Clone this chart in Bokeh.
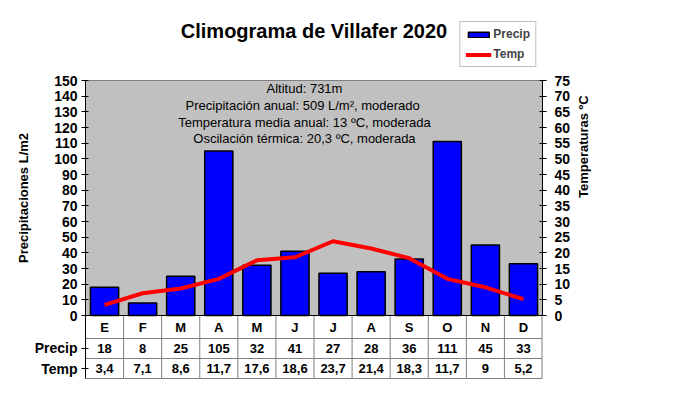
import math
from bokeh.plotting import figure
from bokeh.models import (Range1d, LinearAxis, SingleIntervalTicker, FixedTicker, Legend,
                          LegendItem, ColumnDataSource)
from bokeh.embed import file_html
from bokeh.resources import INLINE
from bokeh.core.properties import value

# ---------------- data ----------------
months = ["E", "F", "M", "A", "M", "J", "J", "A", "S", "O", "N", "D"]
precip = [18, 8, 25, 105, 32, 41, 27, 28, 36, 111, 45, 33]
temp = [3.4, 7.1, 8.6, 11.7, 17.6, 18.6, 23.7, 21.4, 18.3, 11.7, 9, 5.2]
info_lines = [
    "Altitud: 731m",
    "Precipitación anual: 509  L/m², moderado",
    "Temperatura media anual: 13 ºC, moderada",
    "Oscilación térmica: 20,3 ºC, moderada",
]
title_text = "Climograma de Villafer 2020"
row_labels = ["Precip", "Temp"]
precip_ticks = list(range(0, 151, 10))

FONT = "Liberation Sans"
n = len(months)
xs = list(range(n))

# ---------------- geometry ----------------
frame_w = 457
left_b = 85
top_b = 15
chart_top_px = 80       # where the 150 line sits (page px)
chart_px = 235          # height of the 0..150 area in pixels
table_px = 65           # table height under the chart in pixels
k = 150 / chart_px      # data units per pixel (left scale)
y_min = -table_px * k
y_max = 150 + (chart_top_px - top_b) * k
frame_h = chart_top_px - top_b + chart_px + table_px

p = figure(frame_width=frame_w, frame_height=frame_h,
           x_range=Range1d(-0.5, n - 0.5), y_range=Range1d(y_min, y_max),
           output_backend="svg", toolbar_location=None, x_axis_location=None,
           min_border_left=left_b, min_border_right=0, min_border_top=top_b,
           min_border_bottom=2)
p.background_fill_color = "white"
p.border_fill_color = "white"
p.outline_line_color = None
p.grid.visible = False

p.extra_y_ranges = {"temp": Range1d(y_min / 2, y_max / 2)}

# gray plot area (0..150 only)
p.vbar(x=[(n - 1) / 2], width=n, bottom=0, top=150, fill_color="#C0C0C0",
       line_color="#808080", line_width=1)

src = ColumnDataSource(dict(x=xs, precip=precip, temp=temp))
bars = p.vbar(x="x", top="precip", width=0.74, source=src, fill_color="#0000FF",
              line_color="black", line_width=1.5)
line = p.line(x="x", y="temp", source=src, y_range_name="temp", line_color="#FF0000",
              line_width=4)

# title (inside the frame's white top strip)
p.text(x=[(n - 1) / 2], y=[150 + (chart_top_px - 30) * k], text=[title_text],
       text_font=value(FONT), text_font_size="20px", text_font_style="bold",
       text_align="center", text_baseline="middle", text_color="black")

# ---------------- table geometry (data units below the chart) ----------------
row_y = [0, -23 * k, -43 * k, -63 * k]       # row boundaries
row_c = [-11.5 * k, -21, -34]                # row centres (months, Precip, Temp)
gray = "#808080"

# left axis: precipitation ticks + the table's row headers
ya = p.yaxis[0]
ya.ticker = FixedTicker(ticks=precip_ticks + row_c[1:])
ya.major_label_overrides = {row_c[1]: row_labels[0], row_c[2]: row_labels[1]}
ya.axis_label = "Precipitaciones L/m2"
ya.bounds = (row_y[3], 150)

ra = LinearAxis(y_range_name="temp", ticker=SingleIntervalTicker(interval=5),
                axis_label="Temperaturas ºC", bounds=(0, 75))
p.add_layout(ra, "right")
try:
    ra.axis_label_orientation = math.pi / 2
except Exception:
    pass

for ax in [ya, ra]:
    ax.minor_tick_line_color = None
    ax.major_tick_in = 3
    ax.major_tick_out = 4
    ax.major_label_text_font = FONT
    ax.major_label_text_font_size = "14px"
    ax.major_label_text_font_style = "bold"
    ax.major_label_text_color = "black"
    ax.axis_label_text_font = FONT
    ax.axis_label_text_font_size = "13px"
    ax.axis_label_text_font_style = "bold"
    ax.axis_label_text_color = "black"
    ax.axis_line_color = "black"
    ax.major_tick_line_color = "black"
ya.major_label_standoff = 4
ya.axis_label_standoff = 1
ra.major_label_standoff = 8
ra.axis_label_standoff = 10

info_src = ColumnDataSource(dict(x=[5.25] * len(info_lines), y=[145, 134.3, 123.5, 112.8],
                                 text=info_lines))
p.text(x="x", y="y", text="text", source=info_src, text_font=value(FONT),
       text_font_size="13px", text_align="center", text_baseline="middle", text_color="black")

# table grid lines inside the frame
vx = [i + 0.5 for i in range(n - 1)]
mx = [[xx, xx] for xx in vx] + [[-0.5, n - 0.5] for _ in row_y[1:]]
my = [[row_y[0], row_y[3]] for _ in vx] + [[yy, yy] for yy in row_y[1:]]
p.multi_line(xs=mx, ys=my, line_color=gray, line_width=1)
p.multi_line(xs=[[n - 0.5, n - 0.5]], ys=[[row_y[0], row_y[3]]], line_color=gray,
             line_width=2)
# chart baseline
p.line(x=[-0.5, n - 0.5], y=[0, 0], line_color="black", line_width=1)

temp_txt = [f"{v:g}".replace(".", ",") for v in temp]
tsrc = ColumnDataSource(dict(
    x=xs * 3,
    y=[row_c[0]] * n + [row_c[1]] * n + [row_c[2]] * n,
    text=months + [str(v) for v in precip] + temp_txt,
))
p.text(x="x", y="y", text="text", source=tsrc, text_font=value(FONT), text_font_size="13px",
       text_font_style="bold", text_align="center", text_baseline="middle", text_color="black")

# legend inside the frame (top-right white strip) so it is always visible
legend = Legend(items=[LegendItem(label="Precip", renderers=[bars]),
                       LegendItem(label="Temp", renderers=[line])],
                location="top_right")
legend.label_text_font = FONT
legend.label_text_font_size = "12px"
legend.label_text_font_style = "bold"
legend.glyph_width = 26
legend.glyph_height = 7
legend.label_height = 14
legend.label_standoff = 2
legend.padding = 5
legend.spacing = 6
legend.margin = 6
legend.border_line_color = "#808080"
legend.background_fill_color = "white"
legend.background_fill_alpha = 1
p.add_layout(legend)

open("out.html", "w").write(file_html(p, INLINE))
